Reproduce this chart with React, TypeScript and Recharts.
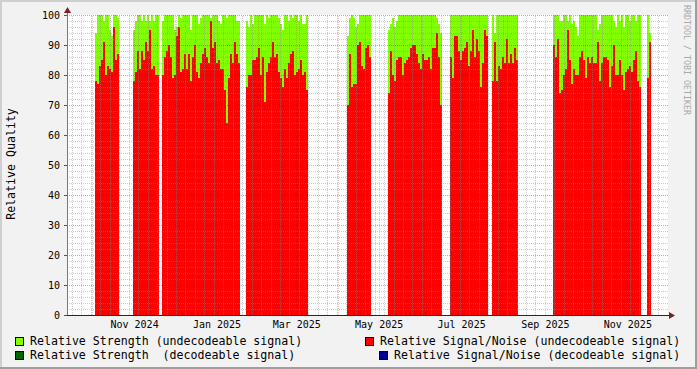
import React from 'react';
import { AreaChart, Area, XAxis, YAxis, ReferenceLine, CartesianGrid } from 'recharts';

// ---- time frame ----
const RANGE_START = '2024-09-12T00:00:00Z';
const RANGE_DAYS = 444.72;
const STEP_DAYS = 1.48;

// ---- data segments (start of each continuous run of samples) ----
const segmentStarts = [
  '2024-10-02T17:00:00Z',
  '2024-10-30T20:00:00Z',
  '2024-11-21T07:00:00Z',
  '2025-01-22T11:00:00Z',
  '2025-04-07T05:00:00Z',
  '2025-05-07T13:00:00Z',
  '2025-06-22T10:00:00Z',
  '2025-07-23T12:00:00Z',
  '2025-09-06T15:00:00Z',
  '2025-11-15T05:00:00Z',
];

// Relative Signal/Noise (undecodeable signal)
const snr1 = [78, 77, 83, 85, 91, 80, 83, 82, 81, 96, 85, 87];
const snr2 = [78, 81, 88, 82, 88, 85, 91, 88, 95, 82, 83, 80, 80];
const snr3 = [80, 86, 88, 90, 86, 79, 80, 93, 96, 81, 82, 87, 82, 87, 78, 86, 90, 81, 79, 84, 87, 89, 86, 84, 98, 89, 91, 84, 85, 82, 82, 75, 64, 79, 87, 84, 91, 87, 84];
const snr4 = [76, 80, 80, 85, 85, 86, 89, 80, 86, 71, 81, 84, 86, 91, 86, 87, 81, 79, 76, 82, 79, 84, 87, 88, 80, 81, 82, 85, 80, 81, 75];
const snr5 = [70, 87, 76, 77, 77, 90, 91, 83, 82, 89, 90, 86];
const snr6 = [74, 88, 80, 78, 85, 86, 86, 80, 84, 85, 86, 89, 90, 90, 87, 84, 82, 87, 85, 85, 86, 82, 89, 89, 94, 86, 70];
const snr7 = [86, 79, 93, 93, 88, 85, 88, 89, 91, 83, 88, 95, 86, 92, 88, 76, 84, 95, 93];
const snr8 = [78, 91, 78, 83, 82, 86, 84, 92, 84, 87, 84, 89, 85];
const snr9 = [90, 86, 92, 74, 75, 80, 82, 95, 85, 77, 82, 80, 80, 86, 88, 85, 79, 86, 84, 86, 84, 84, 91, 78, 84, 86, 86, 85, 76, 83, 90, 80, 80, 85, 80, 75, 81, 82, 83, 81, 85, 88, 78, 76];
const snr10 = [79, 91];

// Relative Strength (undecodeable signal)
const str1 = [94, 100, 100, 100, 98, 100, 100, 95, 93, 100, 100, 99];
const str2 = [95, 98, 100, 100, 98, 100, 98, 100, 98, 100, 98, 100, 100];
const str3 = [98, 100, 100, 100, 100, 100, 95, 96, 100, 99, 100, 100, 100, 100, 95, 100, 100, 100, 97, 99, 100, 100, 100, 100, 99, 100, 100, 100, 98, 97, 100, 100, 99, 100, 100, 100, 100, 98, 98];
const str4 = [98, 96, 100, 97, 100, 100, 100, 100, 100, 97, 100, 99, 100, 100, 100, 100, 99, 97, 95, 100, 100, 98, 100, 99, 100, 100, 98, 100, 97, 97, 100];
const str5 = [93, 99, 100, 99, 96, 97, 100, 100, 100, 100, 100, 100];
const str6 = [95, 97, 99, 96, 98, 100, 100, 100, 100, 100, 100, 100, 100, 100, 100, 100, 100, 100, 100, 100, 100, 100, 100, 100, 99, 97, 94];
const str7 = [100, 100, 100, 100, 100, 100, 100, 100, 100, 100, 100, 100, 100, 100, 100, 100, 100, 100, 100];
const str8 = [100, 94, 100, 100, 100, 100, 100, 100, 100, 100, 100, 100, 100];
const str9 = [100, 100, 100, 98, 98, 100, 100, 98, 100, 97, 98, 96, 93, 100, 100, 100, 100, 100, 100, 100, 100, 100, 95, 97, 100, 100, 100, 100, 100, 100, 98, 96, 100, 98, 100, 96, 100, 100, 98, 100, 100, 98, 100, 100];
const str10 = [100, 94];

const snrSegments = [snr1, snr2, snr3, snr4, snr5, snr6, snr7, snr8, snr9, snr10];
const strSegments = [str1, str2, str3, str4, str5, str6, str7, str8, str9, str10];

// ---- axis ----
const xLabelDates = ['2024-11-01', '2025-01-01', '2025-03-01', '2025-05-01', '2025-07-01', '2025-09-01', '2025-11-01'];
const xLabelTexts = ['Nov 2024', 'Jan 2025', 'Mar 2025', 'May 2025', 'Jul 2025', 'Sep 2025', 'Nov 2025'];
const monthGridDates = ['2024-10-01', '2024-11-01', '2024-12-01', '2025-01-01', '2025-02-01', '2025-03-01', '2025-04-01', '2025-05-01', '2025-06-01', '2025-07-01', '2025-08-01', '2025-09-01', '2025-10-01', '2025-11-01'];
const FIRST_WEEK = '2024-09-16';
const yTicks = [0, 10, 20, 30, 40, 50, 60, 70, 80, 90, 100];
const yMinor = [2, 4, 6, 8, 12, 14, 16, 18, 22, 24, 26, 28, 32, 34, 36, 38, 42, 44, 46, 48, 52, 54, 56, 58, 62, 64, 66, 68, 72, 74, 76, 78, 82, 84, 86, 88, 92, 94, 96, 98];

const DAY = 86400000;
const T0 = Date.parse(RANGE_START);
const T1 = T0 + RANGE_DAYS * DAY;
const STEP = STEP_DAYS * DAY;

const rows: any[] = [];
segmentStarts.forEach((s, k) => {
  const s0 = Date.parse(s);
  const sn = snrSegments[k];
  const st = strSegments[k];
  sn.forEach((v, i) => rows.push({ t: s0 + i * STEP, snr: v, str: st[i] }));
  const n = sn.length;
  rows.push({ t: s0 + n * STEP, snr: sn[n - 1], str: st[n - 1] });
  rows.push({ t: s0 + n * STEP + 1000, snr: null, str: null });
});

const xLabelTimes = xLabelDates.map((d) => Date.parse(d + 'T00:00:00Z'));
const monthTimes = monthGridDates.map((d) => Date.parse(d + 'T00:00:00Z'));
const weekTimes: number[] = [];
for (let t = Date.parse(FIRST_WEEK + 'T00:00:00Z'); t < T1; t += 7 * DAY) {
  if (!monthTimes.some((m) => Math.abs(m - t) < DAY / 2)) weekTimes.push(t);
}

const FONT = '"DejaVu Sans Mono", monospace';
const MINOR = 'rgba(140,140,140,0.45)';
const MAJOR = 'rgba(130,30,30,0.4)';
const MAJOR_V = 'rgba(130,30,30,0.22)';

const fmtX = (t: number) => {
  const i = xLabelTimes.indexOf(t);
  return i >= 0 ? xLabelTexts[i] : '';
};

const legendRows = [
  { x: 15, y: 337, color: '#80FF00', tx: 30, label: 'Relative Strength (undecodeable signal)' },
  { x: 365, y: 337, color: '#FF0000', tx: 380, label: 'Relative Signal/Noise (undecodeable signal)' },
  { x: 15, y: 351, color: '#006600', tx: 30, label: 'Relative Strength  (decodeable signal)' },
  { x: 379, y: 351, color: '#000099', tx: 394, label: 'Relative Signal/Noise (decodeable signal)' },
];

export default function App() {
  return (
    <div style={{ position: 'absolute', left: 0, top: 0, width: 697, height: 369, background: '#F2F2F2', overflow: 'hidden' }}>
      <style>{`
        .recharts-reference-line line { shape-rendering: crispEdges; }
        .recharts-area-area { shape-rendering: crispEdges; }
        .recharts-cartesian-axis-line, .recharts-cartesian-axis-tick-line { shape-rendering: crispEdges; }
      `}</style>
      <AreaChart width={697} height={369} data={rows} margin={{ top: 15, right: 29, bottom: 34, left: 7 }}>
        <CartesianGrid fill="#FFFFFF" horizontal={false} vertical={false} stroke="none" />
        <XAxis
          type="number"
          dataKey="t"
          domain={[T0, T1]}
          allowDataOverflow
          ticks={xLabelTimes}
          interval={0}
          tickFormatter={fmtX}
          height={20}
          tickSize={0}
          tickMargin={6}
          tickLine={false}
          axisLine={{ stroke: '#20205A' }}
          tick={{ fontFamily: FONT, fontSize: 10, fill: '#000' }}
        />
        <YAxis
          type="number"
          domain={[0, 100]}
          allowDataOverflow
          ticks={yTicks}
          interval={0}
          width={60}
          tickSize={3}
          tickMargin={4}
          tickLine={{ stroke: '#555' }}
          axisLine={{ stroke: '#777' }}
          tick={{ fontFamily: FONT, fontSize: 10, fill: '#000' }}
        />
        <Area dataKey="str" type="stepAfter" fill="#80FF00" fillOpacity={1} stroke="none" connectNulls={false} isAnimationActive={false} dot={false} activeDot={false} />
        <Area dataKey="snr" type="stepAfter" fill="#FF0000" fillOpacity={1} stroke="none" connectNulls={false} isAnimationActive={false} dot={false} activeDot={false} />
        {yMinor.map((v) => (
          <ReferenceLine key={'ym' + v} y={v} stroke={MINOR} strokeDasharray="1 1" />
        ))}
        {weekTimes.map((t) => (
          <ReferenceLine key={'xw' + t} x={t} stroke={MINOR} strokeDasharray="1 1" />
        ))}
        {yTicks.filter((v) => v > 0).map((v) => (
          <ReferenceLine key={'yM' + v} y={v} stroke={MAJOR} strokeDasharray="1 1" />
        ))}
        {monthTimes.map((t) => (
          <ReferenceLine key={'xM' + t} x={t} stroke={MAJOR_V} strokeDasharray="1 1" />
        ))}
      </AreaChart>
      <svg width={697} height={369} style={{ position: 'absolute', left: 0, top: 0, pointerEvents: 'none' }}>
        <rect x={0} y={0} width={697} height={2} fill="#CFCFCF" />
        <rect x={0} y={0} width={2} height={369} fill="#CFCFCF" />
        <rect x={695} y={0} width={2} height={369} fill="#9E9E9E" />
        <rect x={0} y={367} width={697} height={2} fill="#9E9E9E" />
        <line x1={67.5} y1={12} x2={67.5} y2={15} stroke="#777" />
        <polygon points="64,13 71,13 67.5,7" fill="#7F1F1F" />
        <line x1={668} y1={315.5} x2={670} y2={315.5} stroke="#20205A" />
        <polygon points="669,312 669,319 675,315.5" fill="#7F1F1F" />
        <text x={11} y={164} transform="rotate(-90 11 164)" textAnchor="middle" dominantBaseline="central" fontFamily={FONT} fontSize={11.6} fill="#000">
          Relative Quality
        </text>
        <text x={687} y={60} transform="rotate(90 687 60)" textAnchor="middle" dominantBaseline="central" fontFamily={FONT} fontSize={8.3} fill="#A8A8A8">
          RRDTOOL / TOBI OETIKER
        </text>
        {legendRows.map((r) => (
          <g key={r.label}>
            <rect x={r.x + 0.5} y={r.y + 0.5} width={8} height={8} fill={r.color} stroke="#000" strokeWidth={1} />
            <text x={r.tx} y={r.y + 7.5} fontFamily={FONT} fontSize={11.6} fill="#000" style={{ whiteSpace: 'pre' }}>
              {r.label}
            </text>
          </g>
        ))}
      </svg>
    </div>
  );
}
